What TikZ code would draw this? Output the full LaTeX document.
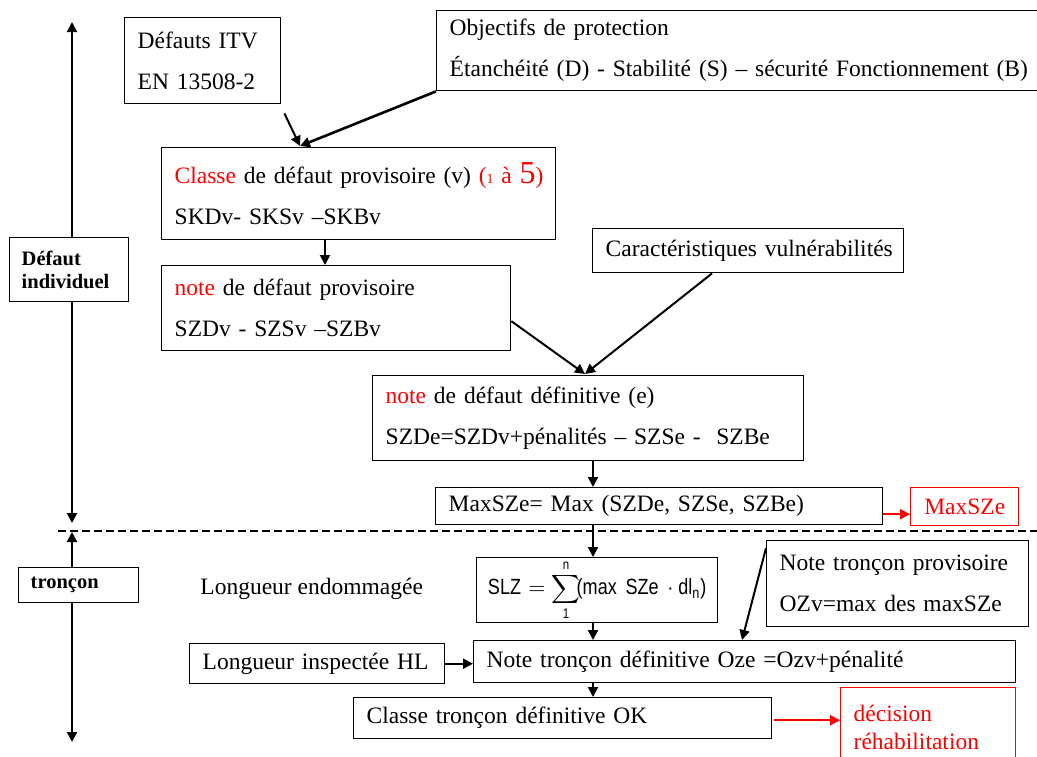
\documentclass[tikz,border=0pt]{standalone}
\usepackage{fontspec}
\setmainfont{Liberation Serif}
\newfontfamily\formulafont[FakeStretch=0.82]{Liberation Sans}
\usetikzlibrary{arrows.meta,calc}
\definecolor{alert}{RGB}{255,0,0}
% one unbreakable text line inside a box
\newcommand\boxline[1]{\mbox{#1}}
\begin{document}
\begin{tikzpicture}[x=0.5pt,y=-0.5pt,
  every node/.style={font=\fontsize{11.75}{20.5}\selectfont},
  box/.style={draw, line width=0.7pt, anchor=north west, fill=white,
    inner xsep=6.5pt, inner ysep=0pt, align=left},
  redbox/.style={box, draw=alert, text=alert},
  axislabel/.style={box, font=\bfseries\fontsize{10.25}{11.5}\selectfont, inner xsep=6pt},
  tip/.tip={Triangle[length=5pt,width=5pt]},
  arr/.style={line width=1pt, -tip},
  redarr/.style={arr, draw=alert, color=alert},
  axisline/.style={line width=1pt, tip-tip},
  sectionline/.style={line width=0.9pt, dash pattern=on 4pt off 2pt},
]
\useasboundingbox (0,0) rectangle (1037,756);

% vertical scale on the left and the separating dashed line
\coordinate (ax1top) at (72,22);
\coordinate (ax1bot) at (72,523);
\coordinate (ax2top) at (72,532);
\coordinate (ax2bot) at (72,742);
\draw[axisline] (ax1top) -- (ax1bot);
\draw[axisline] (ax2top) -- (ax2bot);
\coordinate (sepL) at (58,531);
\coordinate (sepR) at (1037,531);
\draw[sectionline] (sepL) -- (sepR);

\node[axislabel, text width=47.5pt, minimum height=32pt] (lab1) at (9,237) {Défaut\\individuel};
\node[axislabel, text width=48pt, minimum height=17.5pt] (lab2) at (18,567) {tronçon};

% individual defect part
\node[box, text width=65pt, minimum height=43pt] (itv) at (124,17)
  {\boxline{Défauts ITV}\\\boxline{EN 13508-2}};
\node[box, text width=292pt, minimum height=40pt] (obj) at (436,10)
  {\boxline{Objectifs de protection}\\\boxline{Étanchéité (D) - Stabilité (S) – sécurité Fonctionnement (B)}};
\node[box, text width=184pt, minimum height=46pt] (classe) at (161,147)
  {\boxline{{\color{alert}Classe} de défaut provisoire (v) {\color{alert}({\fontsize{7}{8}\selectfont 1} à {\fontsize{16}{18}\selectfont 5})}}\\\boxline{SKDv- SKSv –SKBv}};
\node[box, text width=142.5pt, minimum height=22pt] (carac) at (592,228)
  {\boxline{Caractéristiques vulnérabilités}};
\node[box, text width=161.5pt, minimum height=42.5pt] (noteprov) at (161,265)
  {\boxline{{\color{alert}note} de défaut provisoire}\\\boxline{SZDv - SZSv –SZBv}};
\node[box, text width=202.5pt, minimum height=42.5pt] (notedef) at (372,375)
  {\boxline{{\color{alert}note} de défaut définitive (e)}\\\boxline{SZDe=SZDv+pénalités – SZSe - \ SZBe}};
\node[box, text width=210.5pt, minimum height=18.5pt] (maxsze) at (435,487)
  {\boxline{MaxSZe= Max (SZDe, SZSe, SZBe)}};
\node[redbox, text width=41pt, minimum height=19pt, align=center] (maxred) at (910,487) {MaxSZe};

% section part
\node[anchor=west, inner sep=0pt] (lend) at (200,589) {Longueur endommagée};
\node[box, inner xsep=0pt, minimum width=120.5pt, minimum height=32.5pt, align=center] (slz) at (476,557)
  {\formulafont\fontsize{11}{13}\selectfont SLZ\,\,$=\displaystyle\sum_{\mbox{\formulafont\scriptsize 1}}^{\mbox{\formulafont\scriptsize n}}$\!(max\, SZe\, $\cdot$ dl\textsubscript{n})};
\node[box, text width=118pt, minimum height=43pt] (ntp) at (766,540)
  {\boxline{Note tronçon provisoire}\\\boxline{OZv=max des maxSZe}};
\node[box, text width=114.5pt, minimum height=20pt] (lih) at (189,643)
  {\boxline{Longueur inspectée HL}};
\node[box, text width=258pt, minimum height=21pt] (ntd) at (473,640)
  {\boxline{Note tronçon définitive Oze =Ozv+pénalité}};
\node[box, text width=196pt, minimum height=20.5pt] (cto) at (353,697)
  {\boxline{Classe tronçon définitive OK}};
\node[redbox, text width=74.5pt, minimum height=40pt, font=\fontsize{11.75}{14}\selectfont] (dec) at (840,687)
  {\boxline{décision}\\\boxline{réhabilitation}};

% connectors
\coordinate (m1) at (300,146);
\coordinate (m2) at (585,374);
\coordinate (col) at (593,0);
\draw[arr] ([shift={(3,9)}]itv.south east) -- (m1);
\draw[arr, line width=1.3pt] (obj.south west) -- (m1);
\draw[arr] ([xshift=82pt]classe.south west) -- ([xshift=82pt]noteprov.north west);
\draw[arr] ([yshift=-6.5pt]noteprov.east) -- (m2);
\draw[arr] ([xshift=60pt]carac.south west) -- (m2);
\draw[arr] (notedef.south -| col) -- (maxsze.north -| col);
\draw[redarr] ([yshift=-4pt]maxsze.east) -- ([yshift=-4pt]maxsze.east -| maxred.west);
\draw[arr] (maxsze.south -| col) -- (slz.north -| col);
\draw[arr] (slz.south -| col) -- (ntd.north -| col);
\draw[arr] ([yshift=-4pt]ntp.north west) -- ([xshift=134.5pt]ntd.north west);
\draw[arr] (lih.east) -- (lih.east -| ntd.west);
\draw[arr] (ntd.south -| col) -- (cto.north -| col);
\draw[redarr] ([xshift=1pt,yshift=-1pt]cto.east) -- ([yshift=-1pt]cto.east -| dec.west);
\end{tikzpicture}
\end{document}
